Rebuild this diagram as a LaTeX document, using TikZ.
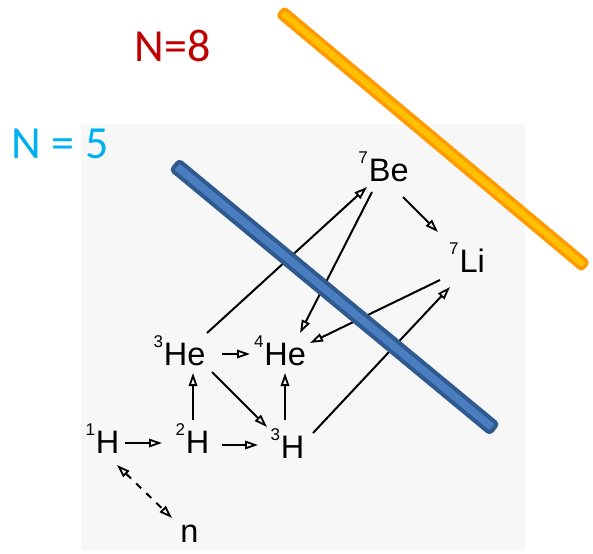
\documentclass[tikz,border=0pt]{standalone}
\usepackage{fontspec}
\setmainfont{Liberation Sans}
\newfontfamily\calib{Carlito}
\usetikzlibrary{arrows.meta,calc}
\definecolor{bgray}{HTML}{F7F7F7}
\definecolor{nred}{HTML}{C00000}
\definecolor{ncyan}{HTML}{00B0F0}
\definecolor{bluefill}{HTML}{4A7EC1}
\definecolor{blueline}{HTML}{2F5A8F}
\definecolor{orfill}{HTML}{FFC000}
\definecolor{orline}{HTML}{FF9900}
\newcommand\iso[2]{{\fontsize{17}{17}\selectfont\raisebox{18pt}{#1}}\hspace{1pt}#2}
\tikzset{
  lbl/.style={inner sep=0pt, anchor=base, font=\fontsize{32.5}{32.5}\selectfont},
  ntxt/.style={inner sep=0pt, anchor=base, font=\calib\fontsize{46}{46}\selectfont},
  arr/.style={line width=2pt, -{Triangle[open,length=13pt,width=8.5pt,line width=1.8pt]}},
  darr/.style={line width=2pt, dash pattern=on 7pt off 7pt, {Triangle[open,length=13pt,width=8.5pt,line width=1.8pt]}-{Triangle[open,length=13pt,width=8.5pt,line width=1.8pt]}},
  bar/.style={rectangle, inner sep=0pt, rounded corners=3pt}
}
\begin{document}
\begin{tikzpicture}[x=1pt,y=-1pt]
\useasboundingbox (0,0) rectangle (593,553);
\fill[bgray] (81,124) rectangle (525,550);
\node[ntxt, text=nred] (n8) at (172.5,62) {N=8};
\node[ntxt, text=ncyan] (n5) at (60,159) {N = 5};
\node[lbl] (be) at (383.5,182) {\iso{7}{Be}};
\node[lbl] (li) at (467,272) {\iso{7}{Li}};
\node[lbl] (he3) at (179.5,365) {\iso{3}{He}};
\node[lbl] (he4) at (280,365) {\iso{4}{He}};
\node[lbl] (h1) at (102.5,453) {\iso{1}{H}};
\node[lbl] (h2) at (192.5,453) {\iso{2}{H}};
\node[lbl] (h3) at (287.5,458) {\iso{3}{H}};
\node[lbl] (nn) at (189.5,542) {n};
\draw[arr] ($(h1.base)+(22.5,-10)$) -- ($(h2.base)+(-30.5,-10)$);
\draw[arr] ($(h2.base)+(29.5,-8)$) -- ($(h3.base)+(-29.5,-13)$);
\draw[arr] ($(h2.base)+(0.5,-33)$) -- ($(he3.base)+(13.5,8)$);
\draw[arr] ($(h3.base)+(-2.5,-38)$) -- ($(he4.base)+(5,8)$);
\draw[arr] ($(he3.base)+(32.5,7)$) -- ($(h3.base)+(-20.5,-31)$);
\draw[arr] ($(he3.base)+(42.5,-11)$) -- ($(he4.base)+(-30,-11)$);
\draw[darr] ($(h1.base)+(14.5,12)$) -- ($(nn.base)+(-17.5,-24)$);
\draw[arr] ($(he3.base)+(27.5,-32)$) -- ($(be.base)+(-16.5,5)$);
\draw[arr] ($(be.base)+(-11.5,10)$) -- ($(he4.base)+(20,-32)$);
\draw[arr] ($(be.base)+(19.5,15)$) -- ($(li.base)+(-29,-40)$);
\draw[arr] ($(li.base)+(-27,8)$) -- ($(he4.base)+(30,-22)$);
\draw[arr] ($(h3.base)+(25.5,-25)$) -- ($(li.base)+(-17,15)$);
\node[bar, line width=4pt, draw=blueline, fill=bluefill, minimum width=413pt, minimum height=12pt, rotate=-39.6] (bluebar) at (334.5,297) {};
\node[bar, line width=3.5pt, draw=orline, fill=orfill, minimum width=396pt, minimum height=10pt, rotate=-39.9] (orbar) at (433,139) {};
\end{tikzpicture}
\end{document}
